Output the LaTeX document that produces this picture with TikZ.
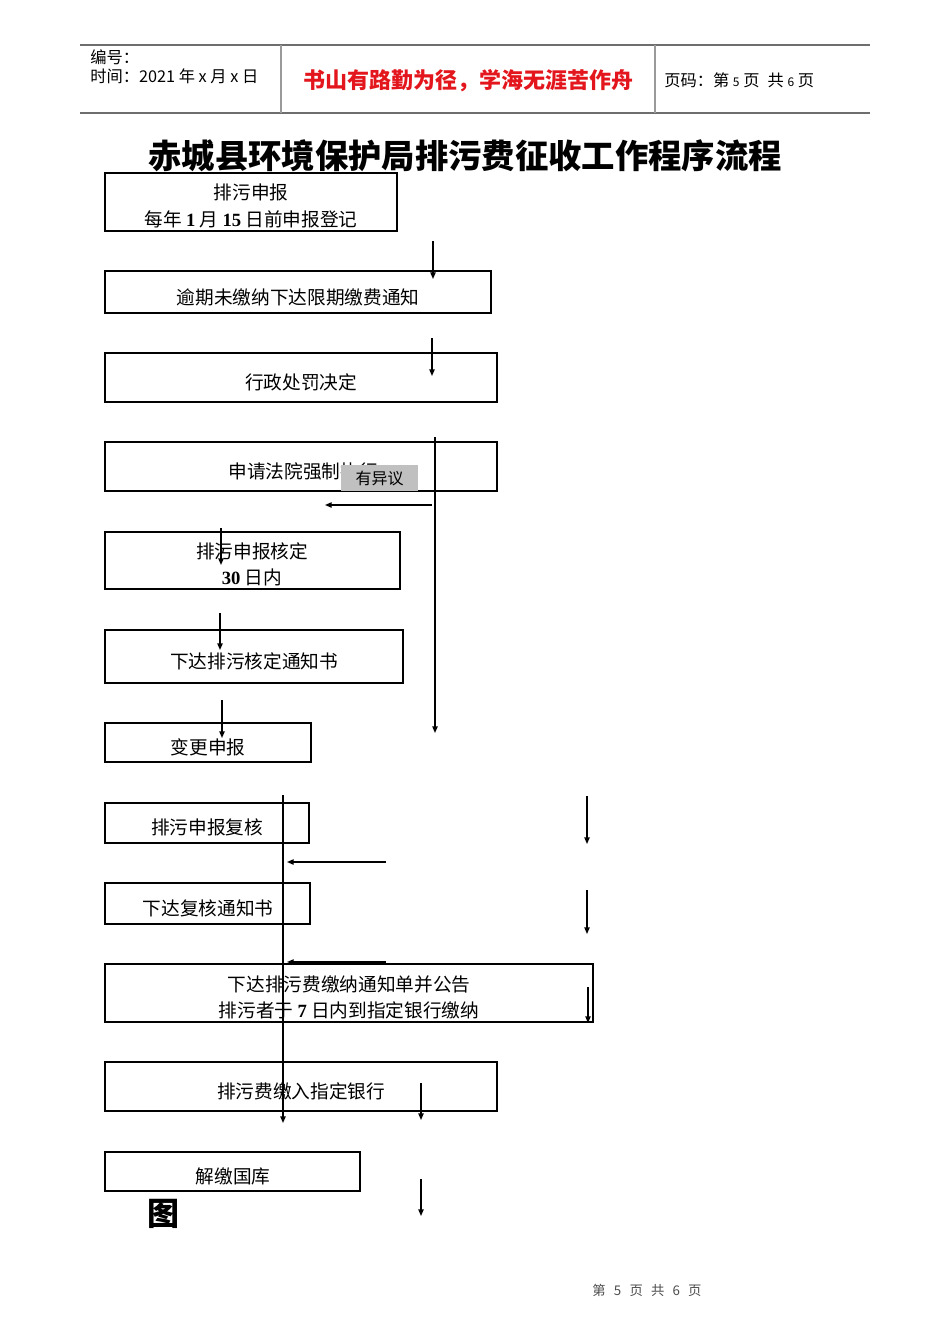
\documentclass[tikz,border=0pt]{standalone}
\usepackage{fontspec}
\setmainfont{Liberation Serif}
\setsansfont{Liberation Sans}
\newfontfamily\hei{Noto Sans CJK SC}
\usetikzlibrary{arrows.meta,fit,calc}
\tikzset{
    lab/.style={
        font=\fontsize{14}{20}\selectfont\hei
    }
}
\newcommand\bnum[1]{{\rmfamily\bfseries #1}}

\begin{document}
\begin{tikzpicture}[x=0.75pt,y=-0.75pt]
    \definecolor{hdr-red}{HTML}{E3161D}
    \definecolor{hdr-line}{HTML}{6E6E6E}
    \definecolor{hdr-sep}{HTML}{9A9A9A}
    \definecolor{tag-gray}{HTML}{C0C0C0}
    \definecolor{foot-gray}{HTML}{4D4D4D}

    \tikzset{
      stepbox/.style={
        draw,
        line width=1.3pt,
        inner sep=0pt
      },
      boxtext/.style={
        lab,
        align=center,
        inner sep=0pt
      },
      hdrtext/.style={
        font=\fontsize{12.2}{14}\selectfont\hei,
        anchor=west,
        inner sep=0pt
      },
      arr/.style={
        -{Triangle[length=5pt,width=4pt]},
        line width=1pt
      }
    }

    \useasboundingbox (0,0) rectangle (950,1344);

    % header
    \draw[hdr-line, line width=0.8pt] (80,45) -- (870,45);
    \draw[hdr-line, line width=0.8pt] (80,113) -- (870,113);
    \draw[hdr-sep, line width=0.8pt] (281,45) -- (281,113);
    \draw[hdr-sep, line width=0.8pt] (655,45) -- (655,113);
    \node[hdrtext] (docno) at (90,57) {编号：};
    \node[hdrtext] (docdate) at (90,76) {时间：2021 年 x 月 x 日};
    \node[font=\fontsize{16.5}{20}\selectfont\hei\bfseries, text=hdr-red] (motto) at (468,81)
      {书山有路勤为径，学海无涯苦作舟};
    \node[hdrtext] (pageno) at (664,80)
      {页码：第 {\fontsize{9}{10}\selectfont 5} 页\enspace 共 {\fontsize{9}{10}\selectfont 6} 页};

    \node[font=\fontsize{25}{30}\selectfont\hei\bfseries] (title) at (465,156)
      {赤城县环境保护局排污费征收工作程序流程};

    % boxes
    \node[stepbox, fit={(105,173)(397,231)}] (report) {};
    \node[boxtext] (report-t) at (251,206) {排污申报\\每年 \bnum{1} 月 \bnum{15} 日前申报登记};

    \node[stepbox, fit={(105,271)(491,313)}] (overdue) {};
    \node[boxtext] (overdue-t) at (298,297) {逾期未缴纳下达限期缴费通知};

    \node[stepbox, fit={(105,353)(497,402)}] (penalty) {};
    \node[boxtext] (penalty-t) at (301,382) {行政处罚决定};

    \node[stepbox, fit={(105,442)(497,491)}] (court) {};
    \node[boxtext] (court-t) at (303,471) {申请法院强制执行};
    \node[fill=tag-gray, minimum width=57.75pt, minimum height=19.5pt, inner sep=0pt,
      font=\fontsize{12}{14}\selectfont\hei] (objection) at (379.5,478) {有异议};

    \node[stepbox, fit={(105,532)(400,589)}] (verify) {};
    \node[boxtext] (verify-t) at (252,564.5) {排污申报核定\\\bnum{30} 日内};

    \node[stepbox, fit={(105,630)(403,683)}] (vnotice) {};
    \node[boxtext] (vnotice-t) at (254,661) {下达排污核定通知书};

    \node[stepbox, fit={(105,723)(311,762)}] (change) {};
    \node[boxtext] (change-t) at (208,747) {变更申报};

    \node[stepbox, fit={(105,803)(309,843)}] (review) {};
    \node[boxtext] (review-t) at (207,827) {排污申报复核};

    \node[stepbox, fit={(105,883)(310,924)}] (rnotice) {};
    \node[boxtext] (rnotice-t) at (208,908) {下达复核通知书};

    \node[stepbox, fit={(105,964)(593,1022)}] (feenotice) {};
    \node[boxtext] (feenotice-t) at (349,997.5)
      {下达排污费缴纳通知单并公告\\排污者于 \bnum{7} 日内到指定银行缴纳};

    \node[stepbox, fit={(105,1062)(497,1111)}] (bank) {};
    \node[boxtext] (bank-t) at (301,1091) {排污费缴入指定银行};

    \node[stepbox, fit={(105,1152)(360,1191)}] (treasury) {};
    \node[boxtext] (treasury-t) at (233,1176) {解缴国库};

    \node[font=\fontsize{24}{28}\selectfont\hei\bfseries] (fig) at (163,1214) {图};

    % arrows
    \foreach \n/\x/\ya/\yb in {a1/433/241/279, a2/432/338/376, a3/221/528/565,
        a4/220/613/650, a5/222/700/738, a6/587/796/844, a7/587/890/934,
        a8/588/987/1023, a9/421/1083/1120, a10/421/1179/1216,
        long1/435/437/733, long2/283/795/1123} {
      \coordinate (\n-s) at (\x,\ya);
      \coordinate (\n-e) at (\x,\yb);
      \draw[arr] (\n-s) -- (\n-e);
    }
    \foreach \n/\xa/\xb/\y in {h1/432/325/505, h2/386/287/862, h3/386/287/962} {
      \coordinate (\n-s) at (\xa,\y);
      \coordinate (\n-e) at (\xb,\y);
      \draw[arr] (\n-s) -- (\n-e);
    }

    % footer
    \node[font=\fontsize{10}{12}\selectfont\hei, text=foot-gray] (footer) at (647,1290)
      {第 \, 5 \, 页 \, 共 \, 6 \, 页};
\end{tikzpicture}
\end{document}
